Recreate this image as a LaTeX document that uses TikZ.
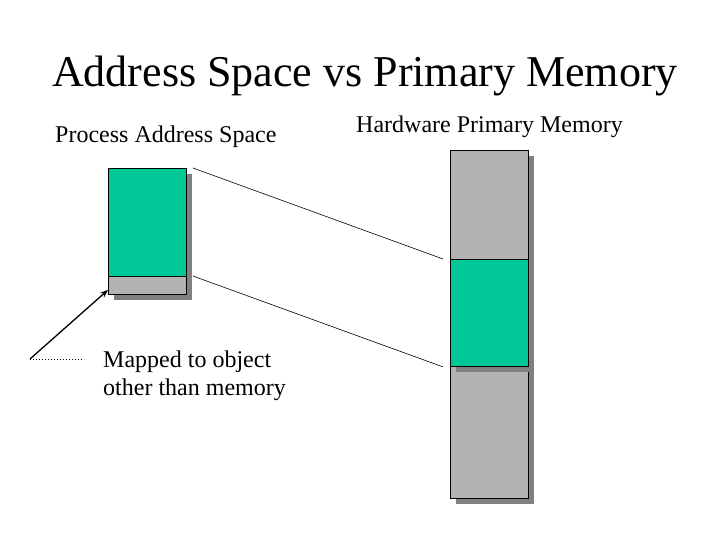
\documentclass[tikz,border=0pt]{standalone}
\usepackage{fontspec}
\setmainfont{Liberation Serif}
\usetikzlibrary{arrows.meta,calc}
\definecolor{memgreen}{RGB}{0,200,150}
\definecolor{memgray}{RGB}{178,178,178}
\definecolor{memshadow}{RGB}{128,128,128}
\tikzset{
    slide/.style   = {x=1pt, y=-1pt, >={Stealth[length=8pt,width=6pt]}},
    seg/.style     = {draw, line width=0.9pt, inner sep=0pt, anchor=north west,
                      minimum width=78pt},
    title/.style   = {font=\fontsize{44}{50}\selectfont, anchor=base west, inner sep=0pt},
    caption/.style = {font=\fontsize{24}{28}\selectfont, anchor=base west, inner sep=0pt,
                      align=left},
    link/.style    = {line width=0.6pt},
}
% memory segment with its drop shadow: name, top-left corner, height, colour
\newcommand{\memseg}[4]{%
    \fill[memshadow] ($#2+(6,6)$) rectangle ++(78,#3);
    \node[seg, fill=#4, minimum height=#3pt] (#1) at #2 {};
}

\begin{document}
\begin{tikzpicture}[slide]
\useasboundingbox (0,0) rectangle (720,540);

% Headings.
\node[title] (head) at (52,87) {Address Space vs Primary Memory};
\node[caption] (aslabel) at (55,143) {Process Address Space};
\node[caption] (pmlabel) at (356,133) {Hardware Primary Memory};

% Process address space.
\memseg{asgreen}{(108,168)}{108}{memgreen}
\memseg{asgray}{(108,276)}{18}{memgray}

% Primary memory.
\memseg{pmtop}{(450,150)}{109}{memgray}
\memseg{pmlow}{(450,366)}{132}{memgray}
\memseg{pmgreen}{(450,259)}{107}{memgreen}

% Mapping lines.
\draw[link] ([xshift=6pt]asgreen.north east) -- ([xshift=-7pt]pmgreen.north west);
\draw[link] ([xshift=6pt]asgray.north east) -- ([xshift=-7pt]pmgreen.south west);

% Note on the unmapped part.
\coordinate (notefoot) at (30,359);
\coordinate (noteend) at (84,359);
\draw[->,line width=1.3pt] (notefoot) -- ([shift={(0,-5)}]asgray.south west);
\draw[dotted,line width=1pt] (notefoot) -- (noteend);
\node[caption] (note) at (103,395) {Mapped to object\\other than memory};

\end{tikzpicture}
\end{document}
